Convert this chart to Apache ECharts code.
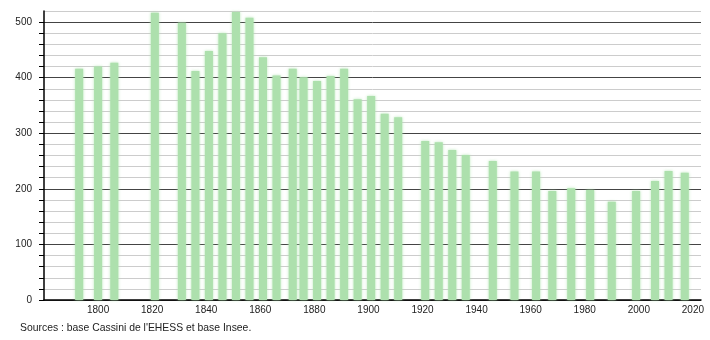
<!DOCTYPE html>
<html>
<head>
<meta charset="utf-8">
<script src="https://cdn.jsdelivr.net/npm/echarts@6/dist/echarts.min.js"></script>
<style>
html,body{margin:0;padding:0;background:#fff;}
#chart{width:710px;height:340px;}
</style>
</head>
<body>
<div id="chart"></div>
<script>
const years = [1793,1800,1806,1821,1831,1836,1841,1846,1851,1856,1861,1866,1872,1876,1881,1886,1891,1896,1901,1906,1911,1921,1926,1931,1936,1946,1954,1962,1968,1975,1982,1990,1999,2006,2011,2017];
const population = [416,420,427,517,499,412,448,480,518,508,437,404,416,401,394,403,416,361,367,335,329,286,284,270,261,250,231,231,196,201,198,177,196,214,232,229];
const xTickLabels = [1800,1820,1840,1860,1880,1900,1920,1940,1960,1980,2000,2020];
const yTickLabels = [0,100,200,300,400,500];
const sourceText = "Sources : base Cassini de l'EHESS et base Insee.";

const chart = echarts.init(document.getElementById('chart'), null, {renderer:'canvas'});
const font = 'Liberation Sans, Arial, sans-serif';
chart.setOption({
  animation: false,
  backgroundColor: '#fff',
  textStyle: {fontFamily: font},
  grid: {left: 44, right: 9, top: 11, bottom: 40, containLabel: false},
  xAxis: {
    type: 'value', min: 1780, max: 2023, interval: 20,
    axisLine: {show: true, onZero: false, lineStyle: {color: '#000', width: 1.5}},
    axisTick: {show: false},
    splitLine: {show: false},
    axisLabel: {
      fontSize: 10, color: '#222', fontFamily: font, margin: 5,
      showMinLabel: true, showMaxLabel: false,
      formatter: v => xTickLabels.indexOf(v) >= 0 ? String(v) : ''
    }
  },
  yAxis: {
    type: 'value', min: 0, max: 520, interval: 20,
    axisLine: {show: true, lineStyle: {color: '#000', width: 1.5}},
    axisTick: {show: true, length: 5, lineStyle: {color: '#000', width: 1}},
    splitLine: {show: true, lineStyle: {color: ['#444','#ccc','#ccc','#ccc','#ccc'], width: 1}},
    axisLabel: {
      fontSize: 10, color: '#222', fontFamily: font, margin: 12,
      showMaxLabel: false,
      formatter: v => yTickLabels.indexOf(v) >= 0 ? String(v) : ''
    }
  },
  series: [{
    type: 'bar',
    barWidth: 8,
    data: years.map((y, i) => [y, population[i]]),
    itemStyle: {color: '#ade0ad', shadowBlur: 3, shadowColor: 'rgba(175,228,175,0.9)'}
  }],
  graphic: [{
    type: 'text', left: 20, top: 323.5,
    style: {text: sourceText, font: '10.4px ' + font, fill: '#222'}
  }]
});
</script>
</body>
</html>
